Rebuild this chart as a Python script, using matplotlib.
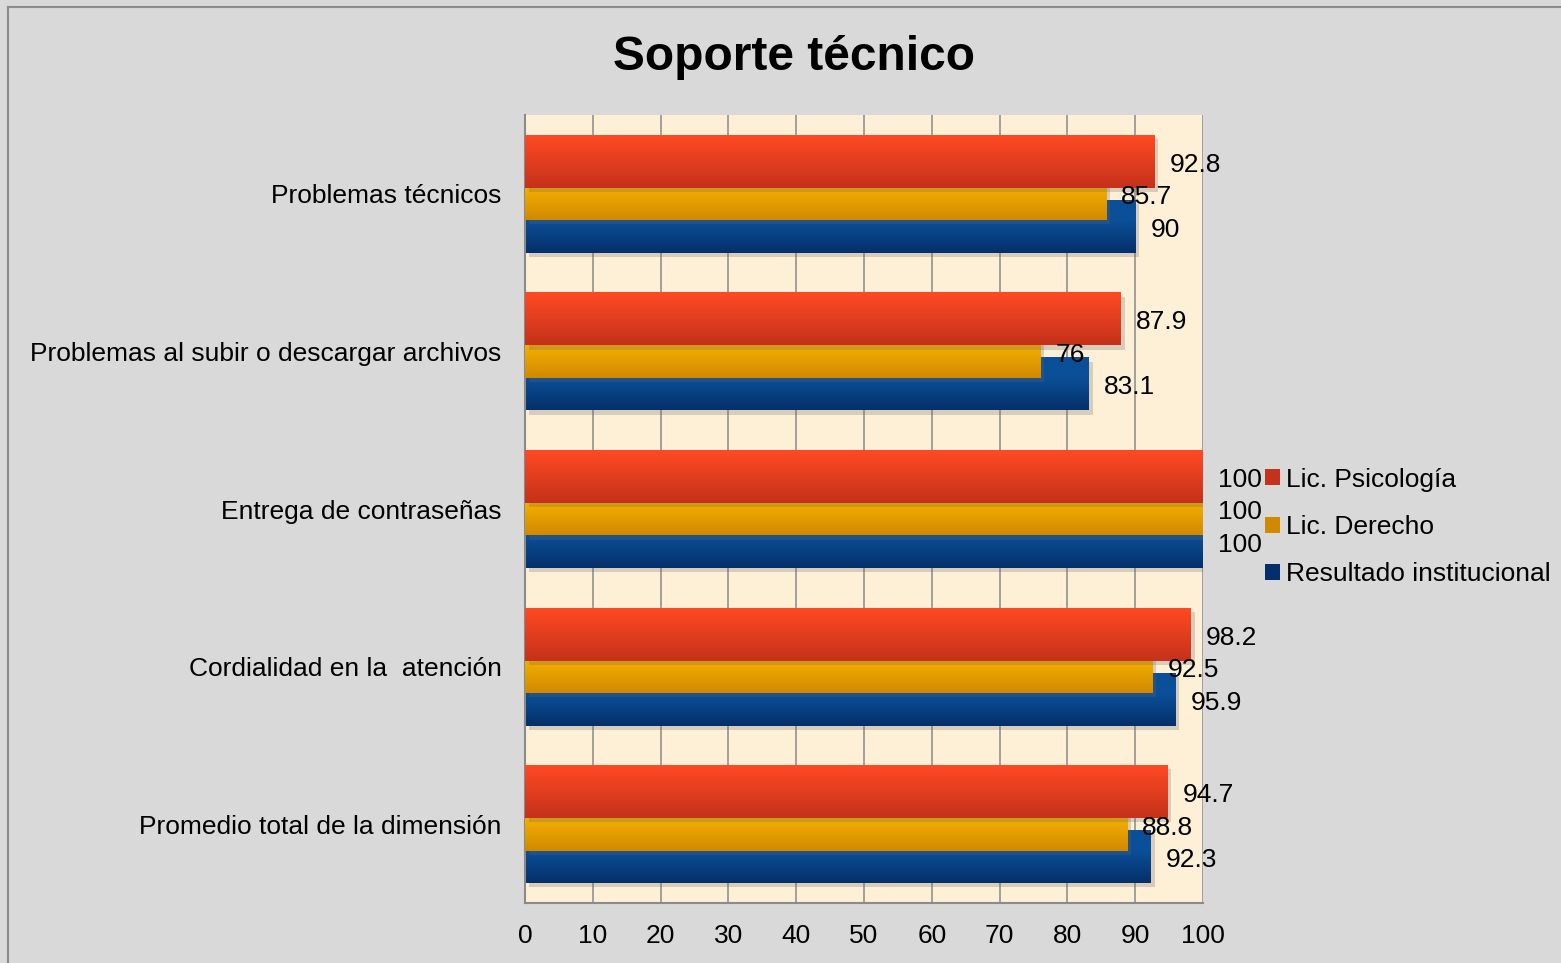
import matplotlib
matplotlib.use("Agg")
import matplotlib.pyplot as plt
import matplotlib.patheffects as pe
import numpy as np
from matplotlib.colors import LinearSegmentedColormap
from matplotlib.lines import Line2D
from matplotlib.patches import Patch

plt.rcParams["font.family"] = ["Liberation Sans", "DejaVu Sans"]

categories = [
    "Problemas técnicos",
    "Problemas al subir o descargar archivos",
    "Entrega de contraseñas",
    "Cordialidad en la  atención",
    "Promedio total de la dimensión",
]
psicologia = [92.8, 87.9, 100, 98.2, 94.7]
derecho = [85.7, 76, 100, 92.5, 88.8]
institucional = [90, 83.1, 100, 95.9, 92.3]

step = 0.206
bar_h = 0.336
series = [
    # name, values, light, dark, offset, zorder
    ("Resultado institucional", institucional, "#0b4f98", "#052f6a", step, 2),
    ("Lic. Derecho", derecho, "#f4ae00", "#d18a00", 0.0, 3),
    ("Lic. Psicología", psicologia, "#ff4a24", "#c5311a", -step, 4),
]

fig = plt.figure(figsize=(15.61, 9.63), dpi=100)
fig.patch.set_facecolor("#d9d9d9")
ax = fig.add_axes([525 / 1561, 1 - 903 / 963, 678 / 1561, 788 / 963])
ax.set_facecolor("#fdf0d7")

y = np.arange(len(categories))
shadow = [pe.SimplePatchShadow(offset=(3, -3), shadow_rgbFace="#666666", alpha=0.25), pe.Normal()]

s = np.linspace(0, 1, 128).reshape(-1, 1)
hidden = (bar_h - step) / bar_h  # part of a bar covered by the one in front

for name, vals, light, dark, off, z in series:
    cmap = LinearSegmentedColormap.from_list(name, [light, dark])
    if z == 4:
        grad = s
    else:
        grad = np.clip((s - hidden) / (1 - hidden), 0, 1)
    bars = ax.barh(y + off, vals, height=bar_h, color=dark, zorder=z, path_effects=shadow)
    for bar, v, yy in zip(bars, vals, y + off):
        im = ax.imshow(grad, cmap=cmap, vmin=0, vmax=1, aspect="auto", zorder=z + 0.1,
                       extent=(0, v, yy + bar_h / 2, yy - bar_h / 2))
        im.set_clip_path(bar)
    for v, yy in zip(vals, y + off):
        ax.annotate(f"{v:g}", (v, yy), xytext=(11, -2.5), textcoords="offset points",
                    ha="left", va="center", fontsize=19, zorder=10, annotation_clip=False)

ax.set_xlim(0, 100)
ax.set_ylim(len(categories) - 0.5, -0.5)
ax.set_xticks(np.arange(0, 101, 10))
ax.set_yticks(y)
ax.set_yticklabels(categories)
ax.tick_params(axis="both", length=0, labelsize=19)
ax.tick_params(axis="x", pad=15)
ax.tick_params(axis="y", pad=17)
ax.xaxis.grid(True, color="#8a8a8a", linewidth=1.1)
ax.set_axisbelow(True)
for side in ["top", "right"]:
    ax.spines[side].set_visible(False)
for side in ["left", "bottom"]:
    ax.spines[side].set_color("#8a8a8a")
    ax.spines[side].set_linewidth(1.5)

fig.text(794 / 1561, 1 - 57 / 963, "Soporte técnico", ha="center", va="center",
         fontsize=34.5, fontweight="bold")

handles = [Patch(facecolor=s_[3], edgecolor="none") for s_ in reversed(series)]
labels = [s_[0] for s_ in reversed(series)]
fig.legend(handles, labels, loc="center left", bbox_to_anchor=(1265 / 1561, 1 - 527 / 963),
           frameon=False, fontsize=19, handlelength=0.55, handleheight=0.55,
           handletextpad=0.25, labelspacing=0.88, borderpad=0, borderaxespad=0)

# outer chart border
fig.add_artist(Line2D([8 / 1561, 8 / 1561], [0, 1 - 7 / 963], transform=fig.transFigure,
                      color="#8c8c8c", linewidth=1.5))
fig.add_artist(Line2D([8 / 1561, 1], [1 - 7 / 963, 1 - 7 / 963], transform=fig.transFigure,
                      color="#8c8c8c", linewidth=1.5))

fig.savefig("out.png", dpi=100, facecolor=fig.get_facecolor())
